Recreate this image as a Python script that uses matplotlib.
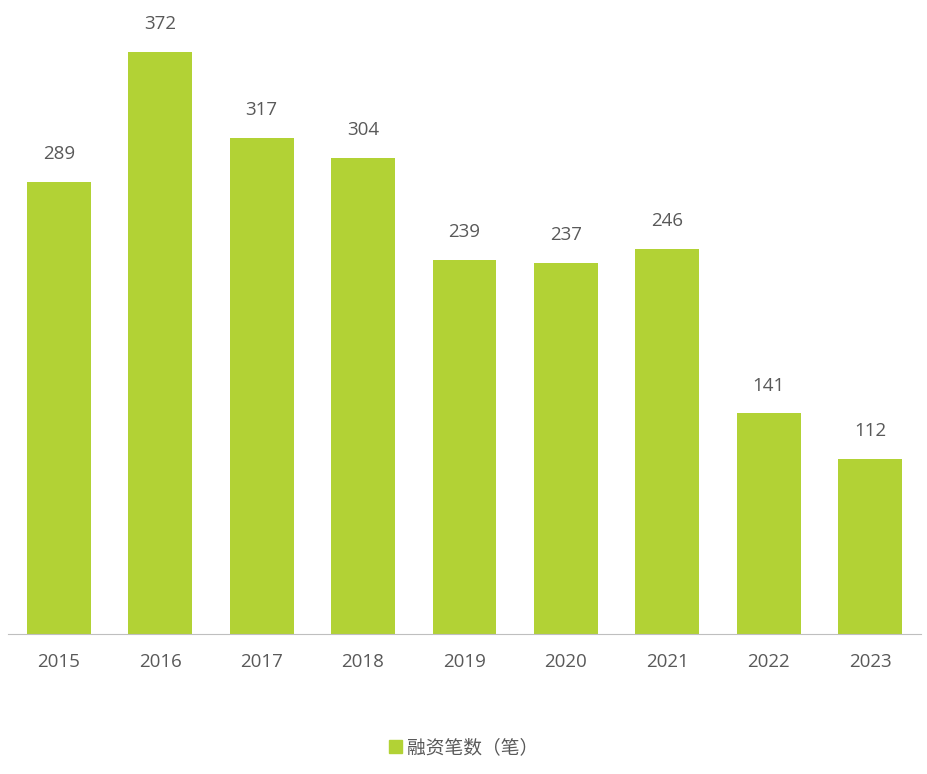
import matplotlib.pyplot as plt
from matplotlib.patches import Patch

plt.rcParams['font.family'] = ['Open Sans', 'Noto Sans CJK SC', 'DejaVu Sans']

years = ['2015', '2016', '2017', '2018', '2019', '2020', '2021', '2022', '2023']
deals = [289, 372, 317, 304, 239, 237, 246, 141, 112]
bar_color = '#B2D235'
text_color = '#595959'

fig = plt.figure(figsize=(9.27, 7.74), dpi=100)
ax = fig.add_axes([8 / 927, 140 / 774, 913 / 927, 624 / 774])

x = range(len(years))
bars = ax.bar(x, deals, width=0.63, color=bar_color)
for i, v in enumerate(deals):
    ax.text(i, v + 12, str(v), ha='center', va='bottom', fontsize=13.5, color=text_color)

ax.set_xlim(-0.5, len(years) - 0.5)
ax.set_ylim(0, 398.7)
ax.set_xticks(list(x))
ax.set_xticklabels(years, fontsize=13.5, color=text_color)
ax.tick_params(axis='x', length=0, pad=14)
ax.set_yticks([])
for s in ['top', 'right', 'left']:
    ax.spines[s].set_visible(False)
ax.spines['bottom'].set_color('#BFBFBF')

fig.legend(handles=[Patch(color=bar_color, label='融资笔数（笔）')],
           loc='center', bbox_to_anchor=(0.5, 26 / 774), frameon=False,
           fontsize=13.5, labelcolor=text_color, handlelength=0.7, handleheight=0.7,
           handletextpad=0.3)

fig.savefig('out.png', dpi=100)
